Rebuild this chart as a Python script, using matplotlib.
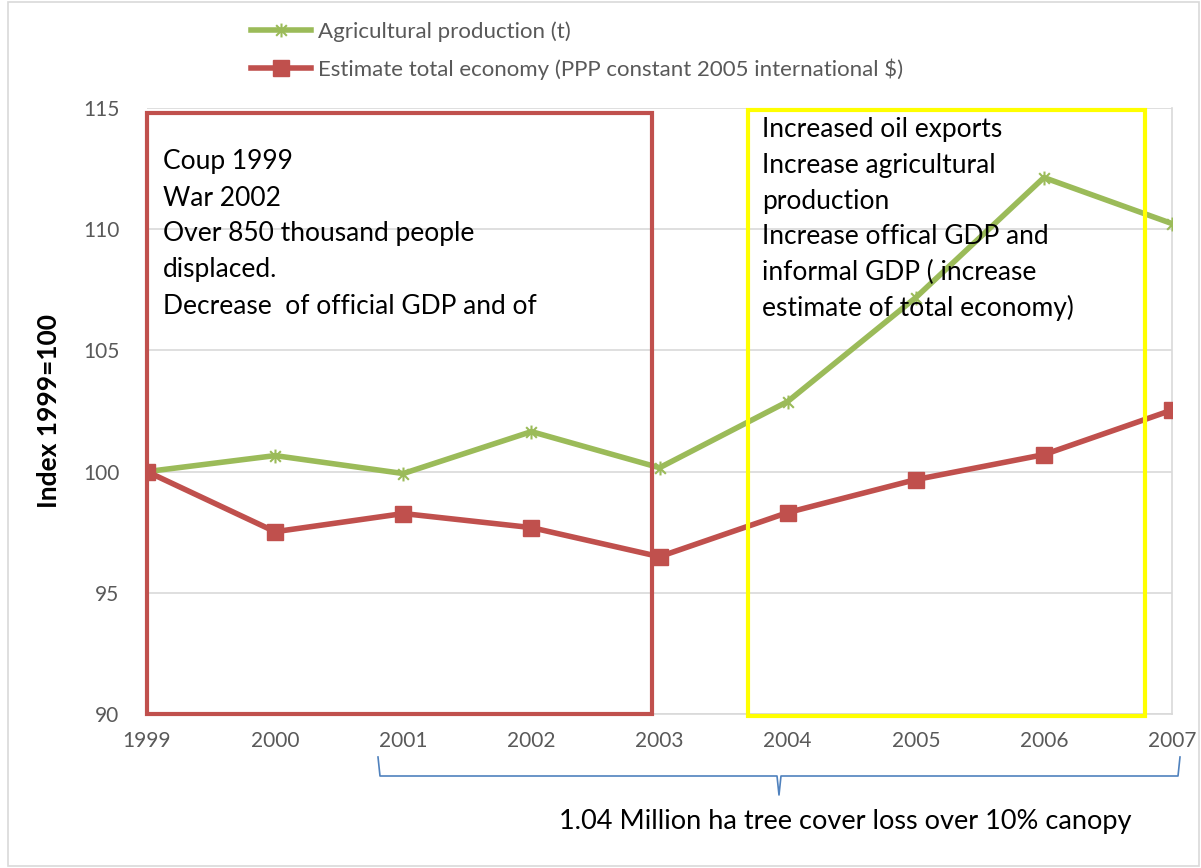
import matplotlib.pyplot as plt
import numpy as np
from matplotlib.path import Path
from matplotlib.patches import Rectangle
from matplotlib.lines import Line2D

plt.rcParams['font.family'] = ['Lato', 'DejaVu Sans']

years = [1999, 2000, 2001, 2002, 2003, 2004, 2005, 2006, 2007]
agri_production = [100.0, 100.66, 99.92, 101.65, 100.16, 102.89, 107.18, 112.13, 110.23]
total_economy = [100.0, 97.52, 98.27, 97.69, 96.49, 98.31, 99.67, 100.70, 102.54]
y_ticks = [90, 95, 100, 105, 110, 115]

crisis_notes = ["Coup 1999", "War 2002", "Over 850 thousand people",
                "displaced.", "Decrease  of official GDP and of"]
growth_notes = ["Increased oil exports", "Increase agricultural", "production",
                "Increase offical GDP and", "informal GDP ( increase",
                "estimate of total economy)"]
brace_label = "1.04 Million ha tree cover loss over 10% canopy"

green = '#9BBB59'
red = '#C0504D'
grey_text = '#595959'
W, H = 1201, 868


def px(x, y):
    # pixel position (from top left) -> figure fraction
    return x / W, 1 - y / H


# Excel style star marker: an "x" with a vertical bar through it
star = Path([(-1, -1), (1, 1), (-1, 1), (1, -1), (0, -1.3), (0, 1.3)],
            [Path.MOVETO, Path.LINETO, Path.MOVETO, Path.LINETO, Path.MOVETO, Path.LINETO])

fig = plt.figure(figsize=(W / 100, H / 100), dpi=100)
ax = fig.add_axes([0.1224, 0.1774, 0.8535, 0.6982])

ax.plot(years, agri_production, color=green, lw=4, marker=star, markersize=10,
        markeredgewidth=1.5, markeredgecolor=green, zorder=3)
ax.plot(years, total_economy, color=red, lw=4, marker='s', markersize=11,
        markeredgecolor=red, zorder=4)

ax.set_xlim(1999, 2007)
ax.set_ylim(90, 115)
ax.set_yticks(y_ticks)
ax.set_xticks(years)
ax.tick_params(axis='both', length=0, labelsize=15, labelcolor=grey_text)
ax.tick_params(axis='x', pad=12)
ax.tick_params(axis='y', pad=20)
ax.grid(axis='y', color='#D9D9D9', lw=1.2)
ax.set_axisbelow(True)
for side in ['top', 'left']:
    ax.spines[side].set_visible(False)
for side in ['bottom', 'right']:
    ax.spines[side].set_color('#D9D9D9')
    ax.spines[side].set_linewidth(1.2)

ax.set_ylabel('Index 1999=100', fontsize=19, fontweight='bold', labelpad=16)

# Period boxes
ax.add_patch(Rectangle((1999, 90), 3.94, 24.8, fill=False, edgecolor=red,
                       lw=3, zorder=5, clip_on=False))
ax.add_patch(Rectangle((2003.69, 89.92), 3.1, 25.0, fill=False, edgecolor='#FFFF00',
                       lw=3, zorder=5, clip_on=False))

for i, line in enumerate(crisis_notes):
    fig.text(*px(163, 162 + 36 * i), line, fontsize=19, va='center', ha='left', zorder=6)
for i, line in enumerate(growth_notes):
    fig.text(*px(762, 130 + 35.6 * i), line, fontsize=19, va='center', ha='left', zorder=6)

# Brace under the axis spanning 2001-2007
bx0, bx1, bxm = 378, 1180, 779
by_top, by_mid, by_tip = 757, 776, 795
brace = [(bx0, by_top), (bx0 + 2, by_mid), (bxm - 2, by_mid), (bxm, by_tip),
         (bxm + 2, by_mid), (bx1 - 2, by_mid), (bx1, by_top)]
bxs, bys = zip(*[px(*p) for p in brace])
fig.add_artist(Line2D(bxs, bys, color='#4F81BD', lw=1.2))
fig.text(*px(845, 822), brace_label, fontsize=19.5, ha='center', va='center')

# Legend above the plot
handles = [Line2D([], [], color=green, lw=4, marker=star, markersize=10,
                  markeredgewidth=1.5),
           Line2D([], [], color=red, lw=4, marker='s', markersize=11)]
leg = fig.legend(handles, ['Agricultural production (t)',
                           'Estimate total economy (PPP constant 2005 international $)'],
                 loc='upper left', bbox_to_anchor=px(231, 1),
                 frameon=False, fontsize=16, handlelength=2.7, handletextpad=0.3,
                 labelspacing=0.75)
for t in leg.get_texts():
    t.set_color(grey_text)

# Outer chart border
fig.add_artist(Rectangle((8 / W, 0.002), 1 - 10 / W, 1 - 4 / H,
                         transform=fig.transFigure, fill=False,
                         edgecolor='#D9D9D9', lw=1.2))

fig.savefig('out.png', dpi=100)
